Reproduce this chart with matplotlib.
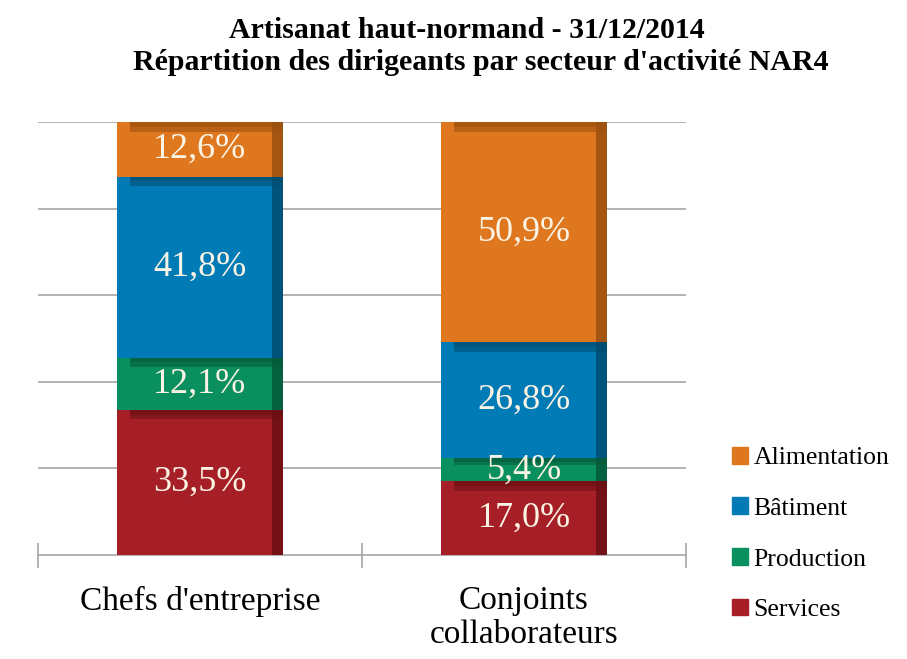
import matplotlib
matplotlib.use("Agg")
import matplotlib.pyplot as plt
from matplotlib.patches import Patch
import numpy as np

categories = ["Chefs d'entreprise", "Conjoints\ncollaborateurs"]
series_names = ["Services", "Production", "Bâtiment", "Alimentation"]
values = {
    "Services": [33.5, 17.0],
    "Production": [12.1, 5.4],
    "Bâtiment": [41.8, 26.8],
    "Alimentation": [12.6, 50.9],
}
labels = {
    "Services": ["33,5%", "17,0%"],
    "Production": ["12,1%", "5,4%"],
    "Bâtiment": ["41,8%", "26,8%"],
    "Alimentation": ["12,6%", "50,9%"],
}
colors = {
    "Services": "#A61F27",
    "Production": "#0A8F5E",
    "Bâtiment": "#007BB6",
    "Alimentation": "#DF771E",
}
dark = {
    "Services": "#6A0F14",
    "Production": "#05593A",
    "Bâtiment": "#004C70",
    "Alimentation": "#9A5010",
}
title1 = "Artisanat haut-normand - 31/12/2014"
title2 = "Répartition des dirigeants par secteur d'activité NAR4"

plt.rcParams['font.family'] = ['Liberation Serif', 'DejaVu Serif']

fig = plt.figure(figsize=(9.07, 6.59), dpi=100)
ax = fig.add_axes([38/907, 104/659, 648/907, 433/659])

x = np.arange(len(categories))
w = 0.515
totals = np.zeros(len(categories))
raw_tot = np.sum([values[s] for s in series_names], axis=0)
for s in series_names:
    v = np.array(values[s]) / raw_tot * 100
    ax.bar(x, v, w, bottom=totals, color=colors[s], edgecolor='none', zorder=3)
    # bevel: top band (soft) and right band
    tb = np.minimum(2.2, v * 0.3)
    ax.bar(x + 0.02, tb, w - 0.04, bottom=totals + v - tb, color=dark[s],
           edgecolor='none', zorder=4, alpha=0.55)
    ax.bar(x + 0.02, tb * 0.5, w - 0.04, bottom=totals + v - tb * 0.5, color=dark[s],
           edgecolor='none', zorder=4, alpha=0.5)
    ax.bar(x + w/2 - 0.017, v, 0.034, bottom=totals, color=dark[s],
           edgecolor='none', zorder=4, alpha=0.85)
    for i in range(len(categories)):
        ax.text(x[i], totals[i] + v[i]/2, labels[s][i], ha='center', va='center',
                color='#FBF3E4', fontsize=26, zorder=6)
    totals += v

ax.set_xlim(-0.5, 1.5)
ax.set_ylim(0, 100)
ax.set_yticks([])
for gy in [20, 40, 60, 80, 100]:
    ax.axhline(gy, color='#A6A6A6', lw=1.2, zorder=1)
for sp in ['top', 'right', 'left']:
    ax.spines[sp].set_visible(False)
ax.spines['bottom'].set_color('#A6A6A6')
ax.spines['bottom'].set_linewidth(1.2)
ax.set_xticks([-0.5, 0.5, 1.5])
ax.set_xticklabels([])
ax.tick_params(axis='x', which='major', direction='inout', length=18, color='#A6A6A6', width=1.2)
ax.set_xticks(x, minor=True)
ax.set_xticklabels(categories, minor=True, fontsize=24, linespacing=1.15)
ax.tick_params(axis='x', which='minor', length=0, pad=22)

fig.text(467/907, 1 - 30/659, title1, ha='center', va='center', fontsize=21.5, fontweight='bold')
fig.text(481/907, 1 - 62/659, title2, ha='center', va='center', fontsize=21.5, fontweight='bold')

handles = [Patch(facecolor=colors[s], edgecolor=colors[s]) for s in reversed(series_names)]
leg = fig.legend(handles, list(reversed(series_names)), loc='center left',
                 bbox_to_anchor=(732/907, 1 - 534/659), frameon=False, fontsize=18.5,
                 borderaxespad=0, borderpad=0,
                 handlelength=0.62, handleheight=0.62, handletextpad=0.22, labelspacing=1.1)

fig.savefig('out.png', dpi=100, facecolor='white')
